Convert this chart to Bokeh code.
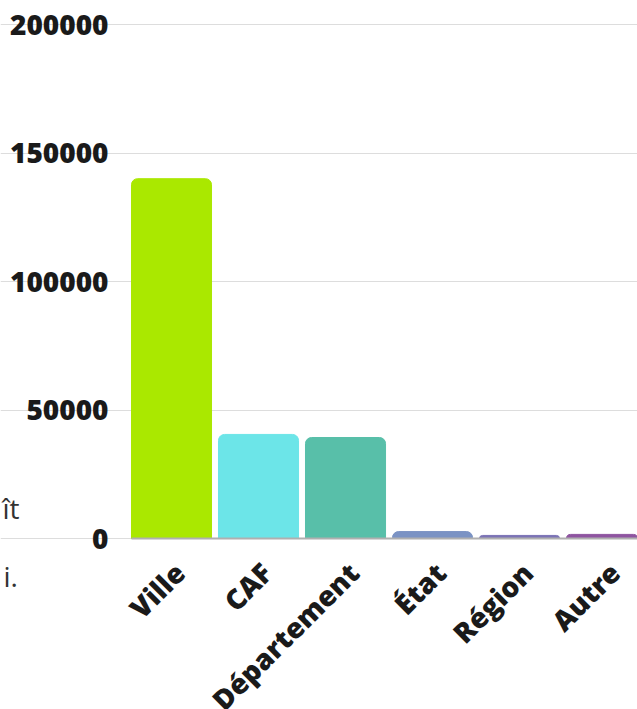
import math
from bokeh.plotting import figure
from bokeh.models import Range1d, FixedTicker, ColumnDataSource, Label, LinearAxis
from bokeh.embed import file_html
from bokeh.resources import INLINE

categories = ["Ville", "CAF", "Département", "État", "Région", "Autre"]
values = [140000, 40500, 39300, 2700, 1200, 1600]
colors = ["#aae800", "#6ce5e8", "#58bfa9", "#7b93c4", "#7b72b5", "#8e54a0"]
y_ticks = [0, 50000, 100000, 150000, 200000]
side_fragments = ["ît", "i."]
fragment_y = [12000, -14700]

xs = list(range(len(categories)))
src = ColumnDataSource(dict(x=xs, top=values, color=colors, cat=categories))

FONT = "'Open Sans ExtraBold', 'Open Sans'"
XS, X0, X1 = -1.9655, -0.46, 5.356   # canvas left, first bar edge, canvas right
LABEL_SHIFT = 0.092                  # category labels sit slightly right of bar centres

p = figure(width=637, height=709, output_backend="svg", toolbar_location=None,
           x_range=Range1d(XS, X1), y_range=Range1d(-66530, 209340),
           min_border_left=0, min_border_right=0, min_border_top=0,
           min_border_bottom=0)
p.outline_line_color = None
p.background_fill_color = "white"
p.border_fill_color = "white"

p.vbar(x="x", top="top", width=0.92, color="color", source=src,
       border_radius=[6, 6, 0, 0])

p.xgrid.grid_line_color = None
p.ygrid.grid_line_color = "#dddddd"
p.ygrid.ticker = FixedTicker(ticks=y_ticks)
p.ygrid.bounds = (X0, X1)

p.yaxis.fixed_location = X0
p.yaxis.ticker = FixedTicker(ticks=y_ticks)
p.yaxis.bounds = (0, 200000)
p.yaxis.axis_line_color = None
p.yaxis.major_tick_line_color = None
p.yaxis.minor_tick_line_color = None
p.yaxis.major_tick_out = 0
p.yaxis.major_tick_in = 0
p.yaxis.major_label_text_font = FONT
p.yaxis.major_label_text_font_style = "bold"
p.yaxis.major_label_text_font_size = "28px"
p.yaxis.major_label_text_color = "#1a1a1a"
p.yaxis.major_label_standoff = 23
p.yaxis.formatter.use_scientific = False

# base line of the x axis
p.xaxis.fixed_location = 0
p.xaxis.bounds = (X0, X1)
p.xaxis.ticker = FixedTicker(ticks=[])
p.xaxis.axis_line_color = "#b0b0b0"
p.xaxis.axis_line_width = 2
p.xaxis.major_tick_line_color = None
p.xaxis.minor_tick_line_color = None
p.xaxis.major_tick_out = 0
p.xaxis.major_tick_in = 0

# category labels
p.extra_x_ranges = {"labels": Range1d(XS - LABEL_SHIFT, X1 - LABEL_SHIFT)}
lab_axis = LinearAxis(x_range_name="labels", fixed_location=0,
                      ticker=FixedTicker(ticks=xs),
                      major_label_overrides={i: c for i, c in zip(xs, categories)})
lab_axis.axis_line_color = None
lab_axis.major_tick_line_color = None
lab_axis.minor_tick_line_color = None
lab_axis.major_tick_out = 0
lab_axis.major_tick_in = 0
lab_axis.major_label_orientation = math.pi / 4
lab_axis.major_label_text_font = FONT
lab_axis.major_label_text_font_style = "bold"
lab_axis.major_label_text_font_size = "28px"
lab_axis.major_label_text_color = "#1a1a1a"
lab_axis.major_label_standoff = 29
p.add_layout(lab_axis, "below")

for txt, yy, xx in zip(side_fragments, fragment_y, [2, 3]):
    p.add_layout(Label(x=xx, y=yy, x_units="screen", y_units="data", text=txt,
                       text_font="Open Sans", text_font_size="28px",
                       text_baseline="alphabetic", text_color="#333333"))

open("out.html", "w").write(file_html(p, INLINE))
